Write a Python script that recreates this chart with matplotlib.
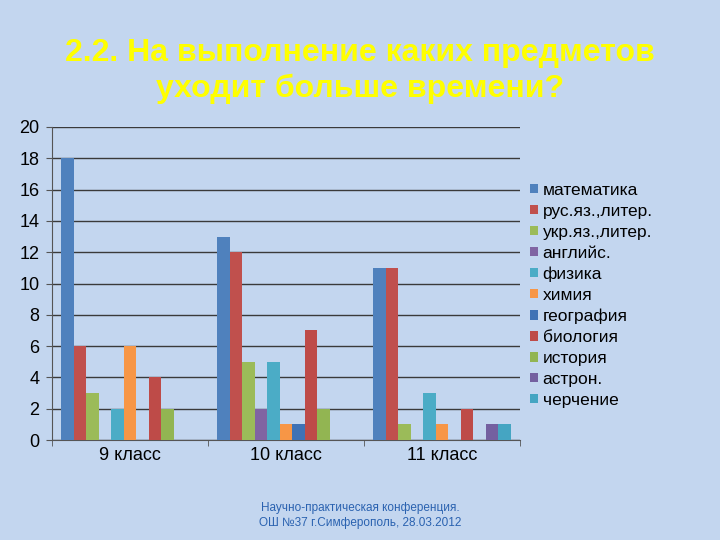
import numpy as np
import matplotlib.pyplot as plt
from matplotlib.ticker import FixedLocator

plt.rcParams['font.family'] = ['Liberation Sans', 'DejaVu Sans']

classes = ['9 класс', '10 класс', '11 класс']
subjects = ['математика', 'рус.яз.,литер.', 'укр.яз.,литер.', 'английс.', 'физика',
            'химия', 'география', 'биология', 'история', 'астрон.', 'черчение']
values = [
    [18, 13, 11],  # математика
    [6, 12, 11],   # рус.яз.,литер.
    [3, 5, 1],     # укр.яз.,литер.
    [0, 2, 0],     # английс.
    [2, 5, 3],     # физика
    [6, 1, 1],     # химия
    [0, 1, 0],     # география
    [4, 7, 2],     # биология
    [2, 2, 0],     # история
    [0, 0, 1],     # астрон.
    [0, 0, 1],     # черчение
]
colors = ['#4F81BD', '#C0504D', '#9BBB59', '#8064A2', '#4BACC6', '#F79646',
          '#3F72B5', '#BE4B48', '#92B552', '#7460A0', '#45A5C2']

bg = '#C3D6EF'
fig = plt.figure(figsize=(7.2, 5.4), dpi=100, facecolor=bg)
ax = fig.add_axes([0.0722, 0.185, 0.65, 0.58])
ax.set_facecolor('none')

n = len(subjects)
w = 1 / (n + 1.5)
x = np.arange(len(classes))
for i, (s, v, c) in enumerate(zip(subjects, values, colors)):
    ax.bar(x - 0.5 + 0.75 * w + (i + 0.5) * w, v, w, color=c, label=s, zorder=3)

ax.set_xlim(-0.5, 2.5)
ax.set_ylim(0, 20)
ax.set_yticks(range(0, 21, 2))
ax.set_xticks(x)
ax.set_xticklabels(classes)
ax.xaxis.set_minor_locator(FixedLocator([-0.5, 0.5, 1.5, 2.5]))
ax.tick_params(axis='x', which='major', length=0, labelsize=13, pad=5)
ax.tick_params(axis='x', which='minor', length=4, color='#555555')
ax.tick_params(axis='y', labelsize=13, length=4, color='#555555', direction='out', pad=5)
ax.grid(axis='y', color='#3a3a3a', linewidth=1.0, zorder=1)
for sp in ['top', 'right']:
    ax.spines[sp].set_visible(False)
ax.spines['left'].set_color('#555555')
ax.spines['bottom'].set_color('#555555')

leg = ax.legend(loc='center left', bbox_to_anchor=(1.0, 0.462), frameon=False,
                fontsize=12.5, handlelength=0.45, handleheight=0.45, handletextpad=0.25,
                labelspacing=0.34, borderaxespad=0.2)

fig.text(0.5, 0.868, '2.2. На выполнение каких предметов\nуходит больше времени?',
         ha='center', va='center', color='#FFFF00', fontsize=23, fontweight='bold',
         linespacing=1.25)
fig.text(0.5, 0.045, 'Научно-практическая конференция.\nОШ №37 г.Симферополь, 28.03.2012',
         ha='center', va='center', color='#2A62B0', fontsize=8.5, linespacing=1.35)

fig.savefig('out.png', dpi=100, facecolor=bg)
